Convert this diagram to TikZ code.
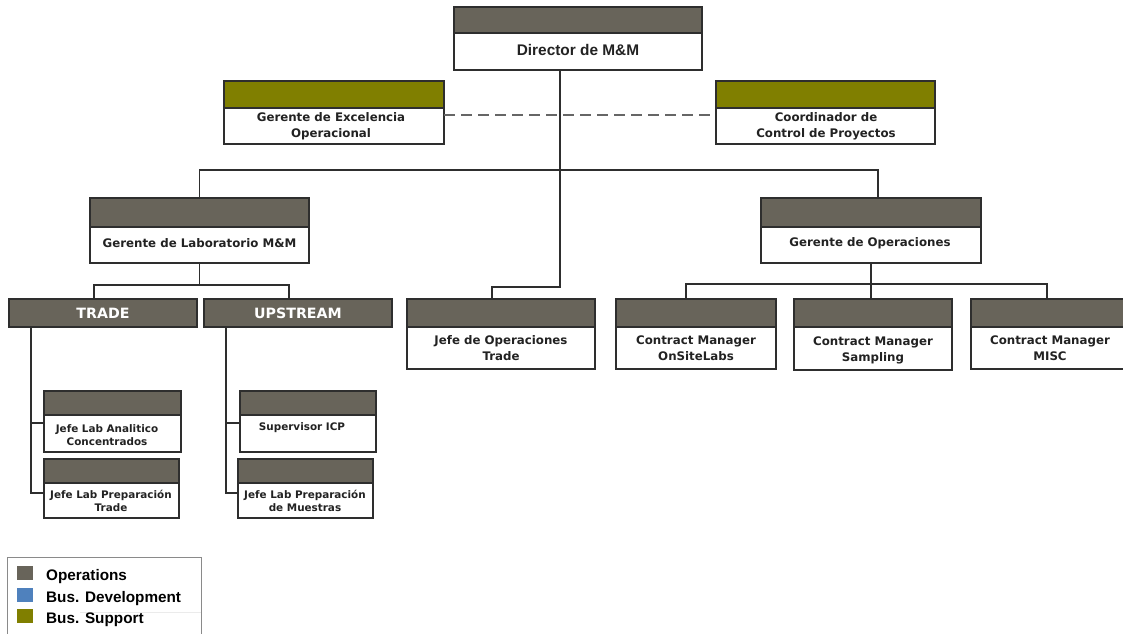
\documentclass[tikz,border=0pt]{standalone}
\usepackage{fontspec}
\setmainfont{Liberation Sans}
\newfontfamily\vfont{DejaVu Sans}
\usetikzlibrary{calc}

\definecolor{bandc}{HTML}{68645A}
\definecolor{olivec}{HTML}{807F00}
\definecolor{bluec}{HTML}{4F81BD}
\definecolor{linec}{HTML}{2E2E2E}
\definecolor{txtc}{HTML}{222222}
\definecolor{legc}{HTML}{8A8A8A}

% one unit of the chart: a white box with a coloured band on top
% #1 name, #2 left, #3 top, #4 right, #5 bottom, #6 band bottom, #7 band colour
\newcommand{\orgunit}[7]{%
  \node[unitbox, minimum width={(#4-#2)*1pt}, minimum height={(#5-#3)*1pt}] (#1) at (#2,#3) {};
  \node[unitband, fill=#7, minimum width={(#4-#2)*1pt}, minimum height={(#6-#3)*1pt}] (#1-band) at (#2,#3) {};
}

\tikzset{
  unitbox/.style={draw=linec, line width=1.4pt, fill=white, inner sep=0pt, outer sep=0pt, anchor=north west},
  unitband/.style={draw=linec, line width=1.4pt, inner sep=0pt, outer sep=0pt, anchor=north west},
  conn/.style={draw=linec, line width=1.3pt},
  dashline/.style={draw=black!60, line width=1.1pt, dash pattern=on 11pt off 6pt},
  lbl/.style={text=txtc, align=center, inner sep=0pt, font={\vfont\bfseries\fontsize{11.8}{16}\selectfont}},
  lblsmall/.style={text=txtc, align=center, inner sep=0pt, font={\vfont\bfseries\fontsize{10.4}{12.5}\selectfont}},
  lblhead/.style={text=white, inner sep=0pt, font={\vfont\bfseries\fontsize{14.2}{16}\selectfont}},
  lbltop/.style={text=txtc, inner sep=0pt, font={\bfseries\fontsize{15.4}{18}\selectfont}},
  swatch/.style={inner sep=0pt, minimum width=16pt, minimum height=14pt, anchor=north west},
  legtext/.style={text=black, anchor=west, inner sep=0pt, font={\bfseries\fontsize{15.3}{18}\selectfont}}
}

\begin{document}
\begin{tikzpicture}[x=1pt, y=-1pt]
\useasboundingbox (0,0) rectangle (1123,633);
\clip (0,0) rectangle (1123,633);
\fill[white] (0,0) rectangle (1123,633);

% ---- units ----
\orgunit{dir}{454}{7}{702}{70}{33}{bandc}
\orgunit{exc}{224}{81}{444}{144}{108}{olivec}
\orgunit{cpr}{716}{81}{935}{144}{108}{olivec}
\orgunit{labm}{90}{198}{309}{263}{227}{bandc}
\orgunit{opsm}{761}{198}{981}{263}{227}{bandc}
\node[unitband, fill=bandc, minimum width=188pt, minimum height=28pt] (trade) at (9,299) {};
\node[unitband, fill=bandc, minimum width=188pt, minimum height=28pt] (up) at (204,299) {};
\orgunit{jops}{407}{299}{595}{369}{327}{bandc}
\orgunit{cm1}{616}{299}{776}{369}{327}{bandc}
\orgunit{cm2}{794}{299}{952}{370}{327}{bandc}
\orgunit{cm3}{971}{299}{1130}{369}{327}{bandc}
\orgunit{ja}{44}{391}{181}{452}{415}{bandc}
\orgunit{jb}{44}{459}{179}{518}{483}{bandc}
\orgunit{sicp}{240}{391}{376}{452}{415}{bandc}
\orgunit{jm}{238}{459}{373}{518}{483}{bandc}

% ---- labels ----
\node[lbltop] (dir-t) at (578,50) {Director de M\&M};
\node[lbl] (exc-t) at (331,126) {Gerente de Excelencia\\Operacional};
\node[lbl] (cpr-t) at (826,126) {Coordinador de\\Control de Proyectos};
\node[lbl] (labm-t) at (199.5,243) {Gerente de Laboratorio M\&M};
\node[lbl] (opsm-t) at (870,243) {Gerente de Operaciones};
\node[lblhead] (trade-t) at (103,313) {TRADE};
\node[lblhead] (up-t) at (298,313) {UPSTREAM};
\node[lbl] (jops-t) at (501,348) {Jefe de Operaciones\\Trade};
\node[lbl] (cm1-t) at (696,348) {Contract Manager\\OnSiteLabs};
\node[lbl] (cm2-t) at (873,350) {Contract Manager\\Sampling};
\node[lbl] (cm3-t) at (1050,348) {Contract Manager\\MISC};
\node[lblsmall] (ja-t) at (107,435) {Jefe Lab Analitico\\Concentrados};
\node[lblsmall] (jb-t) at (111,501) {Jefe Lab Preparación\\Trade};
\node[lblsmall] (sicp-t) at (302,428) {Supervisor ICP};
\node[lblsmall] (jm-t) at (305,501) {Jefe Lab Preparación\\de Muestras};

% ---- connectors ----
\coordinate (dx) at (560,0);
\coordinate (jbend) at (492,287);
\coordinate (busR) at (878,170);
\coordinate (tL) at (94,285);
\coordinate (tR) at (289,285);
\coordinate (oL) at (686,284);
\coordinate (oR) at (1047,284);
\coordinate (tv) at (31,0);
\coordinate (uv) at (226,0);

\draw[conn] (dx |- dir.south) |- (jbend) -- (jbend |- jops.north);
\draw[conn] (labm.north) |- (busR) -- (busR |- opsm.north);
\draw[dashline] ([yshift=-2.5pt]exc.east) -- ([yshift=-2.5pt]cpr.west);

\draw[conn] (labm.south) -- (labm.south |- tL);
\draw[conn] (tL |- trade.north) -- (tL) -- (tR) -- (tR |- up.north);

\draw[conn] (opsm.south) -- (opsm.south |- cm2.north);
\draw[conn] (oL |- cm1.north) -- (oL) -- (oR) -- (oR |- cm3.north);

\draw[conn] (tv |- trade.south) |- ([yshift=-1.5pt]ja.west);
\draw[conn] (tv |- trade.south) |- ([yshift=-4.5pt]jb.west);
\draw[conn] (uv |- up.south) |- ([yshift=-1.5pt]sicp.west);
\draw[conn] (uv |- up.south) |- ([yshift=-4.5pt]jm.west);

% ---- legend ----
\node[draw=legc, line width=1pt, anchor=north west, inner sep=0pt, minimum width=194pt, minimum height=90pt] (legend) at (7,557) {};
\draw[draw=black!8, line width=0.8pt] (80,612) -- (201,612);
\node[swatch, fill=bandc] (sw1) at (17,566) {};
\node[swatch, fill=bluec] (sw2) at (17,588) {};
\node[swatch, fill=olivec] (sw3) at (17,609) {};
\node[legtext] (lg1) at (46,577) {Operations};
\node[legtext] (lg2) at (46,599) {Bus. Development};
\node[legtext] (lg3) at (46,620) {Bus. Support};
\end{tikzpicture}
\end{document}
